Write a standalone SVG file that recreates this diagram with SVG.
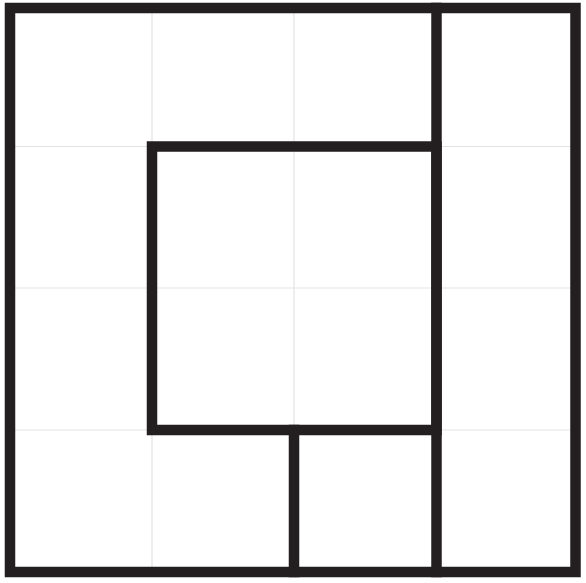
<svg xmlns="http://www.w3.org/2000/svg" width="586" height="583" viewBox="0 0 586 583">
<style>
.grid{stroke:#e3e3e3;stroke-width:1.2;fill:none}
.thick{stroke:#231f20;stroke-width:10.5;fill:none;stroke-linecap:square}
</style>
<rect x="0" y="0" width="586" height="583" fill="#ffffff"/>
<g id="grid">
<line class="grid" x1="152" y1="8" x2="152" y2="572"/>
<line class="grid" x1="294" y1="8" x2="294" y2="572"/>
<line class="grid" x1="10" y1="146.5" x2="575.5" y2="146.5"/>
<line class="grid" x1="10" y1="288" x2="575.5" y2="288"/>
<line class="grid" x1="10" y1="430" x2="575.5" y2="430"/>
</g>
<g id="walls">
<rect class="thick" x="10" y="8" width="565.5" height="564"/>
<line class="thick" x1="436.5" y1="8" x2="436.5" y2="572"/>
<rect class="thick" x="152" y="146.5" width="284.5" height="283.5"/>
<line class="thick" x1="294" y1="430" x2="294" y2="572"/>
</g>
</svg>
